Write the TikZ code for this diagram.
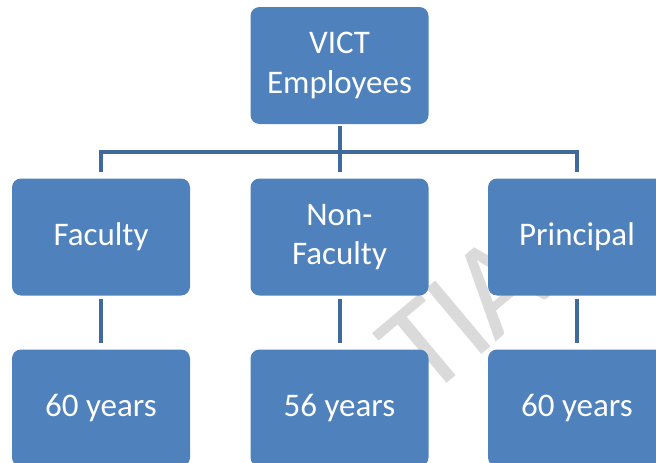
\documentclass[tikz,border=0pt]{standalone}
\usepackage{fontspec}
\setmainfont{Carlito}
\definecolor{boxblue}{RGB}{79,129,189}
\definecolor{lineblue}{RGB}{64,106,158}
\definecolor{wm}{RGB}{218,218,218}
\begin{document}
\begin{tikzpicture}[x=1pt,y=1pt,
  box/.style={fill=boxblue, draw=none, rounded corners=9pt, minimum width=178pt, minimum height=117pt,
    text=white, align=center, font=\fontsize{33}{39.5}\selectfont, inner sep=0pt},
  conn/.style={draw=lineblue, line width=4pt}]
\useasboundingbox (0,0) rectangle (656,-463);
\node[text=wm, font=\fontsize{134}{134}\selectfont, rotate=40, anchor=base west, inner sep=0pt] (wmark) at (426,-401) {T\kern-4pt I\kern-4pt A};
\node[box] (top) at (339.5,-65.5) {VICT\\Employees};
\node[box] (fac) at (101,-237) {Faculty};
\node[box] (nf) at (339.5,-237) {Non-\\Faculty};
\node[box] (pri) at (577,-237) {Principal};
\node[box] (y1) at (101,-408) {60 years};
\node[box] (y2) at (339.5,-408) {56 years};
\node[box] (y3) at (577,-408) {60 years};
\draw[conn] ([yshift=6pt]fac.north) -- ([yshift=26pt]fac.north) -- ([yshift=26pt]pri.north) -- ([yshift=6pt]pri.north);
\draw[conn] ([yshift=-2pt]top.south) -- ([yshift=6pt]nf.north);
\draw[conn] ([yshift=-3pt]fac.south) -- ([yshift=6pt]y1.north);
\draw[conn] ([yshift=-3pt]nf.south) -- ([yshift=6pt]y2.north);
\draw[conn] ([yshift=-3pt]pri.south) -- ([yshift=6pt]y3.north);
\end{tikzpicture}
\end{document}
